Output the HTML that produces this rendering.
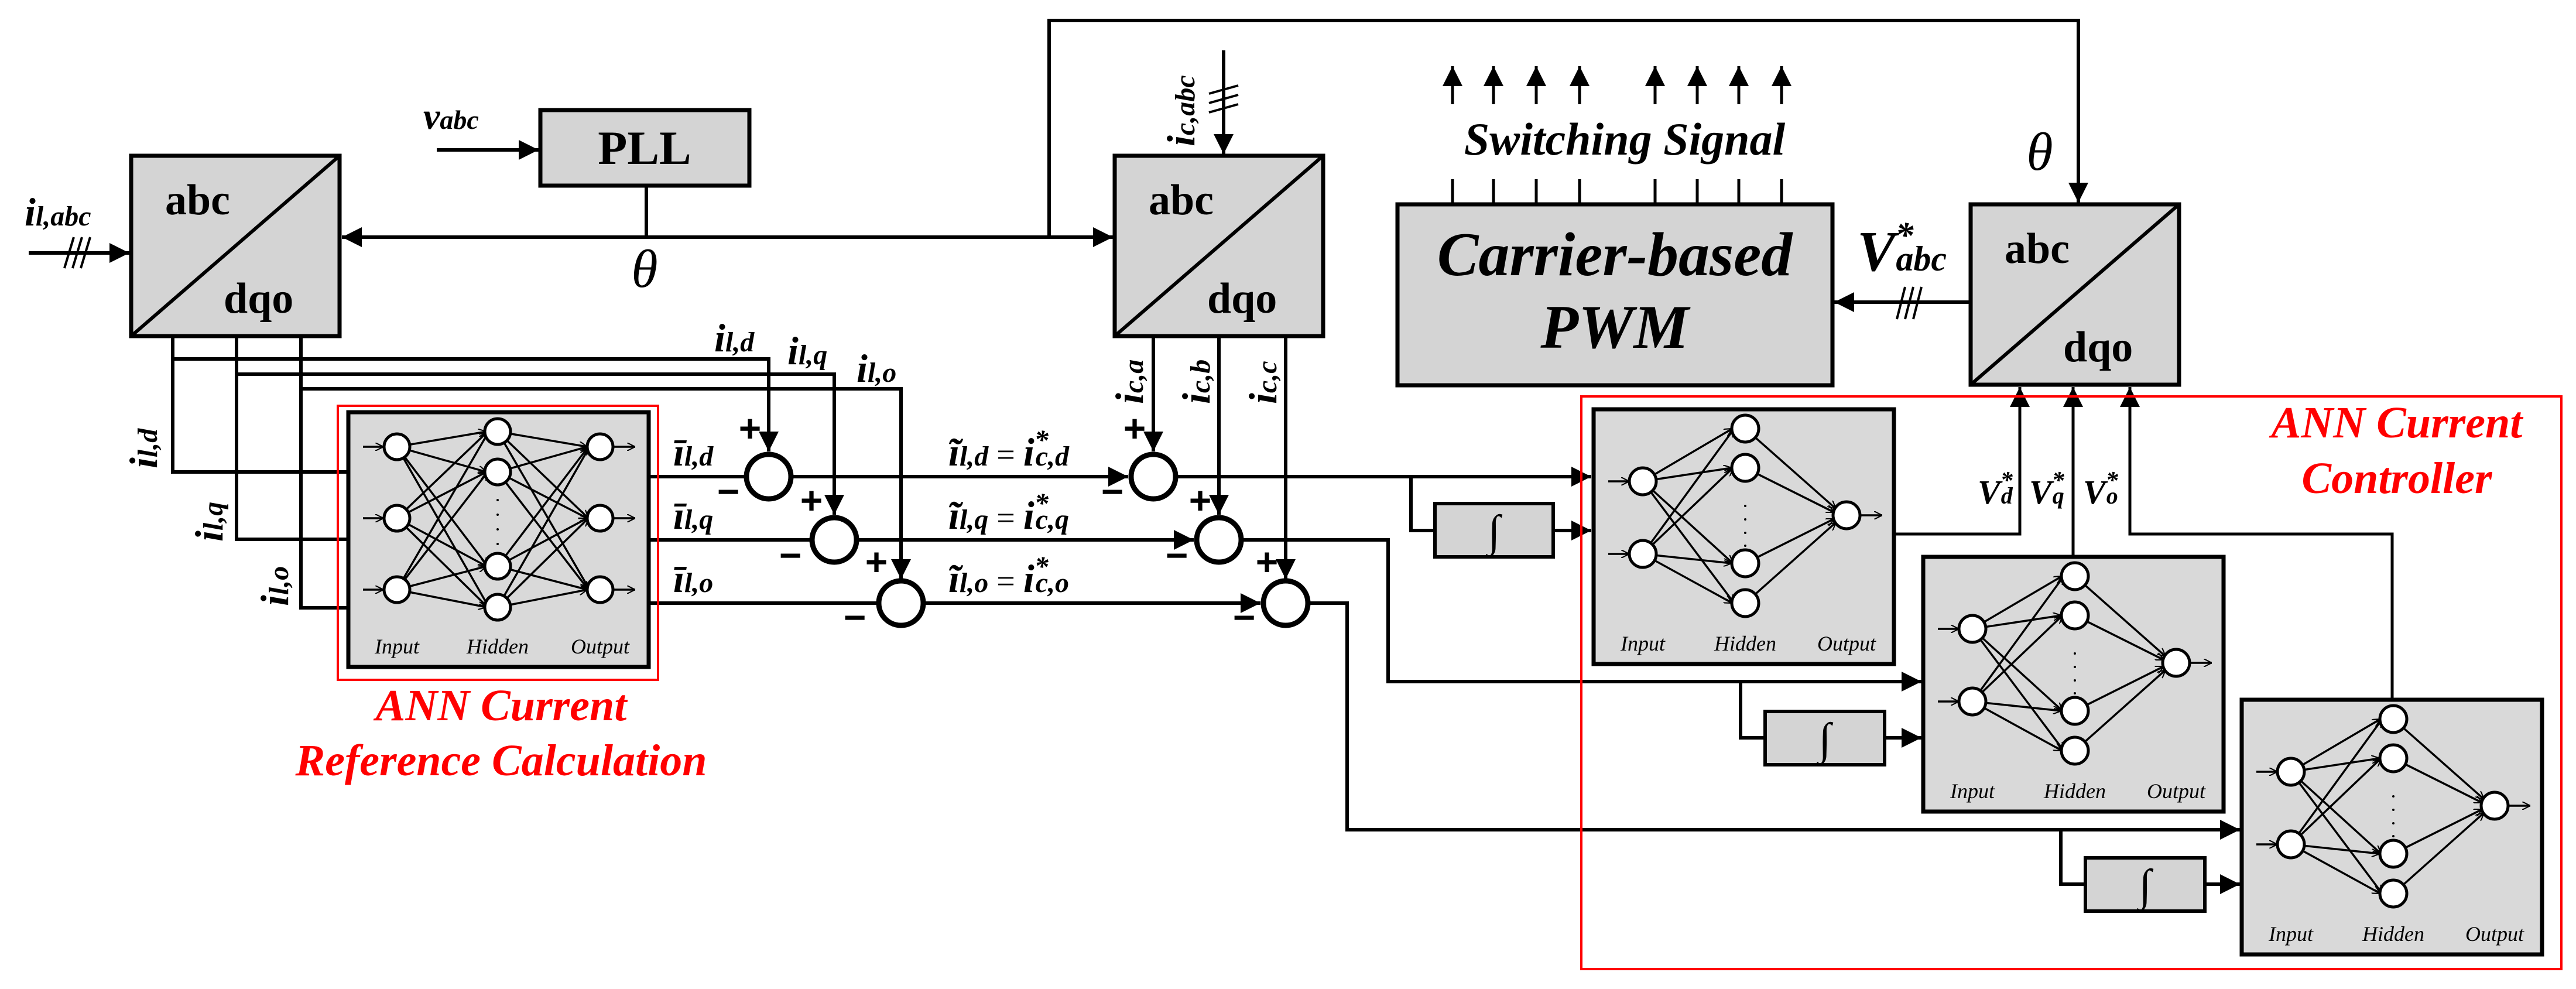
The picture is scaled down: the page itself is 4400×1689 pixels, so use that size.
<!DOCTYPE html>
<html><head><meta charset="utf-8"><style>
html,body{margin:0;padding:0;background:#fff}
svg{display:block}
text{font-family:"Liberation Serif",serif}
.b{font-weight:bold;font-style:italic}
</style></head><body>
<svg width="4400" height="1689" viewBox="0 0 4400 1689" xmlns="http://www.w3.org/2000/svg">
<defs>
<marker id="A" viewBox="0 0 10 10" refX="10" refY="5" markerWidth="34" markerHeight="34" markerUnits="userSpaceOnUse" orient="auto"><path d="M0,0L10,5L0,10z" fill="#000"/></marker>
<marker id="s" viewBox="0 0 10 10" refX="10" refY="5" markerWidth="14" markerHeight="14" markerUnits="userSpaceOnUse" orient="auto"><path d="M0,0L10,5L0,10" fill="none" stroke="#000" stroke-width="1.5"/></marker>
<g id="nn3">
<rect x="0" y="0" width="513" height="435" fill="#d9d9d9" stroke="#000" stroke-width="7"/>
<g stroke="#000" stroke-width="3.5" fill="none" marker-end="url(#s)">
<line x1="25" y1="59" x2="60" y2="59"/><line x1="25" y1="181" x2="60" y2="181"/><line x1="25" y1="303" x2="60" y2="303"/>
<line x1="83" y1="59" x2="236" y2="33"/><line x1="83" y1="59" x2="236" y2="102"/><line x1="83" y1="59" x2="238" y2="263"/><line x1="83" y1="59" x2="240" y2="333"/>
<line x1="83" y1="181" x2="238" y2="33"/><line x1="83" y1="181" x2="236" y2="102"/><line x1="83" y1="181" x2="236" y2="263"/><line x1="83" y1="181" x2="238" y2="333"/>
<line x1="83" y1="303" x2="240" y2="33"/><line x1="83" y1="303" x2="238" y2="102"/><line x1="83" y1="303" x2="236" y2="263"/><line x1="83" y1="303" x2="236" y2="333"/>
<line x1="255" y1="33" x2="408" y2="59"/><line x1="255" y1="33" x2="410" y2="181"/><line x1="255" y1="33" x2="412" y2="303"/>
<line x1="255" y1="102" x2="408" y2="59"/><line x1="255" y1="102" x2="408" y2="181"/><line x1="255" y1="102" x2="410" y2="303"/>
<line x1="255" y1="263" x2="410" y2="59"/><line x1="255" y1="263" x2="408" y2="181"/><line x1="255" y1="263" x2="408" y2="303"/>
<line x1="255" y1="333" x2="412" y2="59"/><line x1="255" y1="333" x2="410" y2="181"/><line x1="255" y1="333" x2="408" y2="303"/>
<line x1="452" y1="59" x2="490" y2="59"/><line x1="452" y1="181" x2="490" y2="181"/><line x1="452" y1="303" x2="490" y2="303"/>
</g>
<g fill="#fff" stroke="#000" stroke-width="5">
<circle cx="83" cy="59" r="22"/><circle cx="83" cy="181" r="22"/><circle cx="83" cy="303" r="22"/>
<circle cx="255" cy="33" r="22"/><circle cx="255" cy="102" r="22"/><circle cx="255" cy="263" r="22"/><circle cx="255" cy="333" r="22"/>
<circle cx="430" cy="59" r="22"/><circle cx="430" cy="181" r="22"/><circle cx="430" cy="303" r="22"/>
</g>
<g fill="#000"><circle cx="255" cy="150" r="2"/><circle cx="255" cy="175" r="2"/><circle cx="255" cy="200" r="2"/><circle cx="255" cy="225" r="2"/></g>
<g font-size="36" font-style="italic" text-anchor="middle"><text x="83" y="412">Input</text><text x="255" y="412">Hidden</text><text x="430" y="412">Output</text></g>
</g>
<g id="nn2">
<rect x="0" y="0" width="513" height="435" fill="#d9d9d9" stroke="#000" stroke-width="7"/>
<g stroke="#000" stroke-width="3.5" fill="none" marker-end="url(#s)">
<line x1="25" y1="123" x2="61" y2="123"/><line x1="25" y1="247" x2="61" y2="247"/>
<line x1="84" y1="123" x2="237" y2="33"/><line x1="84" y1="123" x2="236" y2="100"/><line x1="84" y1="123" x2="238" y2="263"/><line x1="84" y1="123" x2="240" y2="331"/>
<line x1="84" y1="247" x2="240" y2="33"/><line x1="84" y1="247" x2="238" y2="100"/><line x1="84" y1="247" x2="236" y2="263"/><line x1="84" y1="247" x2="237" y2="331"/>
<line x1="259" y1="33" x2="414" y2="170"/><line x1="259" y1="100" x2="411" y2="176"/><line x1="259" y1="263" x2="411" y2="187"/><line x1="259" y1="331" x2="414" y2="193"/>
<line x1="455" y1="181" x2="493" y2="181"/>
</g>
<g fill="#fff" stroke="#000" stroke-width="5">
<circle cx="84" cy="123" r="23"/><circle cx="84" cy="247" r="23"/>
<circle cx="259" cy="33" r="23"/><circle cx="259" cy="100" r="23"/><circle cx="259" cy="263" r="23"/><circle cx="259" cy="331" r="23"/>
<circle cx="432" cy="181" r="23"/>
</g>
<g fill="#000"><circle cx="259" cy="165" r="2"/><circle cx="259" cy="188" r="2"/><circle cx="259" cy="211" r="2"/><circle cx="259" cy="233" r="2"/></g>
<g font-size="36" font-style="italic" text-anchor="middle"><text x="84" y="412">Input</text><text x="259" y="412">Hidden</text><text x="432" y="412">Output</text></g>
</g>
<g id="dq">
<rect x="0" y="0" width="356" height="308" fill="#d4d4d4" stroke="#000" stroke-width="7"/>
<line x1="0" y1="308" x2="356" y2="0" stroke="#000" stroke-width="6"/>
<text x="58" y="100" font-size="74" font-weight="bold">abc</text>
<text x="158" y="268" font-size="74" font-weight="bold">dqo</text>
</g>
</defs>

<use href="#dq" x="224" y="266"/>
<use href="#dq" x="1904" y="266"/>
<use href="#dq" x="3366" y="349"/>
<rect x="923" y="188" width="357" height="129" fill="#d4d4d4" stroke="#000" stroke-width="7"/>
<text x="1101" y="280" font-size="82" font-weight="bold" text-anchor="middle">PLL</text>
<rect x="2387" y="349" width="743" height="309" fill="#d4d4d4" stroke="#000" stroke-width="7"/>
<text x="2758" y="470" font-size="106" class="b" text-anchor="middle">Carrier-based</text>
<text x="2758" y="594" font-size="106" class="b" text-anchor="middle">PWM</text>

<g stroke="#000" stroke-width="6" fill="none">
<line x1="746" y1="256" x2="920" y2="256" marker-end="url(#A)"/>
<line x1="1104" y1="317" x2="1104" y2="405"/>
<line x1="1104" y1="405" x2="584" y2="405" marker-end="url(#A)"/>
<line x1="1104" y1="405" x2="1901" y2="405" marker-end="url(#A)"/>
<polyline points="1792,405 1792,35 3550,35 3550,346" marker-end="url(#A)"/>
<line x1="49" y1="432" x2="221" y2="432" marker-end="url(#A)"/>
<line x1="110" y1="458" x2="126" y2="405" stroke-width="4"/><line x1="124" y1="458" x2="140" y2="405" stroke-width="4"/><line x1="138" y1="458" x2="154" y2="405" stroke-width="4"/>
<line x1="2090" y1="86" x2="2090" y2="263" marker-end="url(#A)"/>
<line x1="2065" y1="160" x2="2115" y2="146" stroke-width="4"/><line x1="2065" y1="176" x2="2115" y2="162" stroke-width="4"/><line x1="2065" y1="192" x2="2115" y2="178" stroke-width="4"/>
<polyline points="295,573 295,806 595,806"/>
<polyline points="404,573 404,921 595,921"/>
<polyline points="514,573 514,1038 595,1038"/>
<polyline points="295,613 1313,613 1313,771" marker-end="url(#A)"/>
<polyline points="404,639 1425,639 1425,879" marker-end="url(#A)"/>
<polyline points="514,664 1539,664 1539,989" marker-end="url(#A)"/>
<line x1="1108" y1="814" x2="1273" y2="814"/>
<line x1="1108" y1="922" x2="1385" y2="922"/>
<line x1="1108" y1="1030" x2="1499" y2="1030"/>
<line x1="1353" y1="814" x2="1927" y2="814" marker-end="url(#A)"/>
<line x1="1465" y1="922" x2="2039" y2="922" marker-end="url(#A)"/>
<line x1="1579" y1="1030" x2="2153" y2="1030" marker-end="url(#A)"/>
<line x1="1970" y1="573" x2="1970" y2="771" marker-end="url(#A)"/>
<line x1="2082" y1="573" x2="2082" y2="879" marker-end="url(#A)"/>
<line x1="2196" y1="573" x2="2196" y2="989" marker-end="url(#A)"/>
<line x1="2010" y1="814" x2="2718" y2="814" marker-end="url(#A)"/>
<polyline points="2410,814 2410,906 2451,906"/>
<line x1="2653" y1="906" x2="2718" y2="906" marker-end="url(#A)"/>
<polyline points="2122,922 2371,922 2371,1164 3282,1164" marker-end="url(#A)"/>
<polyline points="2973,1164 2973,1260 3015,1260"/>
<line x1="3219" y1="1260" x2="3282" y2="1260" marker-end="url(#A)"/>
<polyline points="2236,1030 2301,1030 2301,1417 3826,1417" marker-end="url(#A)"/>
<polyline points="3520,1417 3520,1510 3562,1510"/>
<line x1="3766" y1="1510" x2="3826" y2="1510" marker-end="url(#A)"/>
<polyline points="3235,912 3450,912 3450,661" stroke-width="5" marker-end="url(#A)"/>
<line x1="3541" y1="951" x2="3541" y2="661" stroke-width="5" marker-end="url(#A)"/>
<polyline points="4086,1195 4086,912 3638,912 3638,661" stroke-width="5" marker-end="url(#A)"/>
<line x1="3366" y1="516" x2="3133" y2="516" marker-end="url(#A)"/>
<line x1="3240" y1="545" x2="3254" y2="490" stroke-width="4"/><line x1="3254" y1="545" x2="3268" y2="490" stroke-width="4"/><line x1="3268" y1="545" x2="3282" y2="490" stroke-width="4"/>
<g stroke-width="5">
<line x1="2481" y1="306" x2="2481" y2="349"/><line x1="2551" y1="306" x2="2551" y2="349"/><line x1="2624" y1="306" x2="2624" y2="349"/><line x1="2698" y1="306" x2="2698" y2="349"/>
<line x1="2827" y1="306" x2="2827" y2="349"/><line x1="2899" y1="306" x2="2899" y2="349"/><line x1="2970" y1="306" x2="2970" y2="349"/><line x1="3043" y1="306" x2="3043" y2="349"/>
<line x1="2481" y1="178" x2="2481" y2="113" marker-end="url(#A)"/><line x1="2551" y1="178" x2="2551" y2="113" marker-end="url(#A)"/><line x1="2624" y1="178" x2="2624" y2="113" marker-end="url(#A)"/><line x1="2698" y1="178" x2="2698" y2="113" marker-end="url(#A)"/>
<line x1="2827" y1="178" x2="2827" y2="113" marker-end="url(#A)"/><line x1="2899" y1="178" x2="2899" y2="113" marker-end="url(#A)"/><line x1="2970" y1="178" x2="2970" y2="113" marker-end="url(#A)"/><line x1="3043" y1="178" x2="3043" y2="113" marker-end="url(#A)"/>
</g>
</g>

<g fill="#fff" stroke="#000" stroke-width="9">
<circle cx="1313" cy="814" r="38"/><circle cx="1425" cy="922" r="38"/><circle cx="1539" cy="1030" r="38"/>
<circle cx="1970" cy="814" r="38"/><circle cx="2082" cy="922" r="38"/><circle cx="2196" cy="1030" r="38"/>
</g>
<g font-size="66" font-weight="bold" text-anchor="middle" style="font-family:'Liberation Sans',sans-serif">
<text x="1281" y="754" style="font-family:'Liberation Sans',sans-serif">+</text><text x="1244" y="862" style="font-family:'Liberation Sans',sans-serif">−</text>
<text x="1386" y="877" style="font-family:'Liberation Sans',sans-serif">+</text><text x="1350" y="971" style="font-family:'Liberation Sans',sans-serif">−</text>
<text x="1497" y="982" style="font-family:'Liberation Sans',sans-serif">+</text><text x="1460" y="1077" style="font-family:'Liberation Sans',sans-serif">−</text>
<text x="1938" y="754" style="font-family:'Liberation Sans',sans-serif">+</text><text x="1900" y="862" style="font-family:'Liberation Sans',sans-serif">−</text>
<text x="2050" y="877" style="font-family:'Liberation Sans',sans-serif">+</text><text x="2010" y="971" style="font-family:'Liberation Sans',sans-serif">−</text>
<text x="2164" y="982" style="font-family:'Liberation Sans',sans-serif">+</text><text x="2125" y="1077" style="font-family:'Liberation Sans',sans-serif">−</text>
</g>

<g fill="#d4d4d4" stroke="#000" stroke-width="6">
<rect x="2451" y="860" width="202" height="91"/><rect x="3015" y="1215" width="204" height="91"/><rect x="3562" y="1465" width="204" height="91"/>
</g>
<g font-size="76" text-anchor="middle" font-style="italic"><text x="2552" y="932">∫</text><text x="3117" y="1287">∫</text><text x="3664" y="1537">∫</text></g>

<use href="#nn3" x="595" y="704"/>
<use href="#nn2" x="2722" y="699"/>
<use href="#nn2" x="3285" y="951"/>
<use href="#nn2" x="3829" y="1195"/>

<rect x="577" y="693" width="547" height="468" fill="none" stroke="#f00" stroke-width="4"/>
<rect x="2701" y="677" width="1674" height="978" fill="none" stroke="#f00" stroke-width="4"/>
<g fill="#f00" font-size="76" text-anchor="middle">
<text x="856" y="1230" class="b">ANN Current</text>
<text x="856" y="1324" class="b">Reference Calculation</text>
<text x="4094" y="747" class="b">ANN Current</text>
<text x="4094" y="842" class="b">Controller</text>
</g>

<g class="b" fill="#000">
<text x="723" y="220" font-size="64">v<tspan font-size="46">abc</tspan></text>
<text x="1101" y="490" font-size="92" font-style="italic" font-weight="normal" text-anchor="middle">θ</text>
<text x="3484" y="290" font-size="92" font-style="italic" font-weight="normal" text-anchor="middle">θ</text>
<text x="42" y="385" font-size="68">i<tspan font-size="48">l,abc</tspan></text>
<text transform="translate(2040,250) rotate(-90)" font-size="68">i<tspan font-size="48">c,abc</tspan></text>
<text transform="translate(268,800) rotate(-90)" font-size="68">i<tspan font-size="48">l,d</tspan></text>
<text transform="translate(380,925) rotate(-90)" font-size="68">i<tspan font-size="48">l,q</tspan></text>
<text transform="translate(492,1035) rotate(-90)" font-size="68">i<tspan font-size="48">l,o</tspan></text>
<text transform="translate(1952,690) rotate(-90)" font-size="68">i<tspan font-size="48">c,a</tspan></text>
<text transform="translate(2066,690) rotate(-90)" font-size="68">i<tspan font-size="48">c,b</tspan></text>
<text transform="translate(2180,690) rotate(-90)" font-size="68">i<tspan font-size="48">c,c</tspan></text>
<text x="1220" y="600" font-size="68">i<tspan font-size="48">l,d</tspan></text>
<text x="1345" y="622" font-size="68">i<tspan font-size="48">l,q</tspan></text>
<text x="1463" y="652" font-size="68">i<tspan font-size="48">l,o</tspan></text>
<text x="1150" y="795" font-size="68">ī<tspan font-size="48">l,d</tspan></text>
<text x="1150" y="903" font-size="68">ī<tspan font-size="48">l,q</tspan></text>
<text x="1150" y="1011" font-size="68">ī<tspan font-size="48">l,o</tspan></text>
<text x="1620" y="795" font-size="68">ĩ<tspan font-size="48">l,d</tspan><tspan font-weight="normal" font-style="normal" font-size="56"> = </tspan>i<tspan font-size="48" dy="-28">*</tspan><tspan font-size="48" dx="-22" dy="28">c,d</tspan></text>
<text x="1620" y="903" font-size="68">ĩ<tspan font-size="48">l,q</tspan><tspan font-weight="normal" font-style="normal" font-size="56"> = </tspan>i<tspan font-size="48" dy="-28">*</tspan><tspan font-size="48" dx="-22" dy="28">c,q</tspan></text>
<text x="1620" y="1011" font-size="68">ĩ<tspan font-size="48">l,o</tspan><tspan font-weight="normal" font-style="normal" font-size="56"> = </tspan>i<tspan font-size="48" dy="-28">*</tspan><tspan font-size="48" dx="-22" dy="28">c,o</tspan></text>
<text x="2775" y="264" font-size="78" text-anchor="middle">Switching Signal</text>
<text x="3172" y="462" font-size="98">V<tspan font-size="62" dy="-40">*</tspan><tspan font-size="60" dx="-30" dy="40">abc</tspan></text>
<text x="3378" y="860" font-size="58">V<tspan font-size="42" dy="-26">*</tspan><tspan font-size="40" dx="-20" dy="26">d</tspan></text>
<text x="3466" y="860" font-size="58">V<tspan font-size="42" dy="-26">*</tspan><tspan font-size="40" dx="-20" dy="26">q</tspan></text>
<text x="3558" y="860" font-size="58">V<tspan font-size="42" dy="-26">*</tspan><tspan font-size="40" dx="-20" dy="26">o</tspan></text>
</g>
</svg>
</body></html>
